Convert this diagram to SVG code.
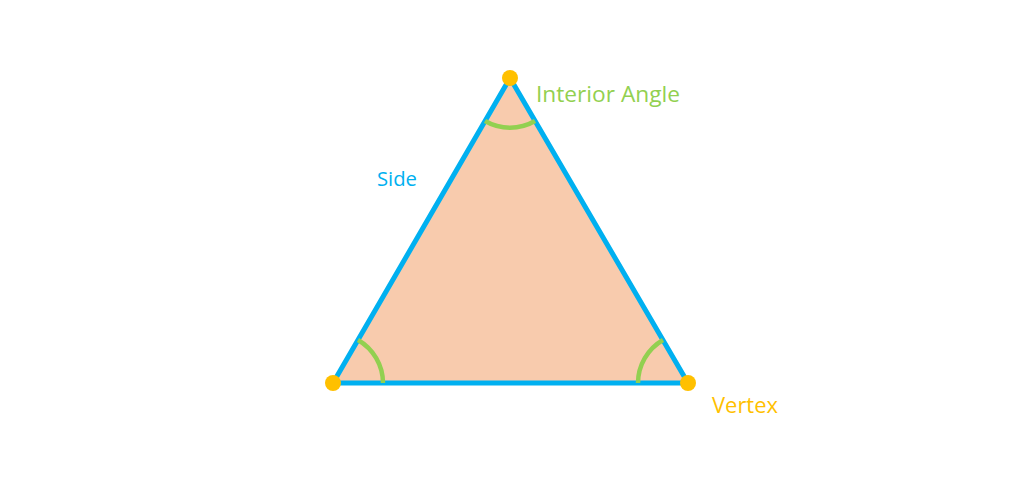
<svg xmlns="http://www.w3.org/2000/svg" width="1024" height="493" viewBox="0 0 1024 493">
<style>
.lbl{font-family:"Open Sans","Liberation Sans",Arial,sans-serif;font-size:21px}
.arc{fill:none;stroke:#92D050;stroke-width:4.5}
.dot{fill:#FFC000}
</style>
<rect width="1024" height="493" fill="#FFFFFF"/>
<g id="triangle">
<polygon points="510,78 333,383 688,383" fill="#F8CBAD" stroke="#00B0F0" stroke-width="5" stroke-linejoin="miter"/>
</g>
<g id="angles">
<path class="arc" d="M485,121 A50,50 0 0 0 535,121"/>
<path class="arc" d="M358,340 A50,50 0 0 1 383,383"/>
<path class="arc" d="M663,340 A50,50 0 0 0 638,383"/>
</g>
<g id="vertices">
<circle class="dot" cx="510" cy="78" r="8"/>
<circle class="dot" cx="333" cy="383" r="8"/>
<circle class="dot" cx="688" cy="383" r="8"/>
</g>
<g id="labels">
<text class="lbl" x="536" y="102" fill="#92D050" textLength="144" lengthAdjust="spacingAndGlyphs">Interior Angle</text>
<text class="lbl" x="377" y="186" fill="#00B0F0" style="font-size:20px" textLength="40" lengthAdjust="spacingAndGlyphs">Side</text>
<text class="lbl" x="712" y="413" fill="#FFC000" textLength="66" lengthAdjust="spacingAndGlyphs">Vertex</text>
</g>
</svg>
